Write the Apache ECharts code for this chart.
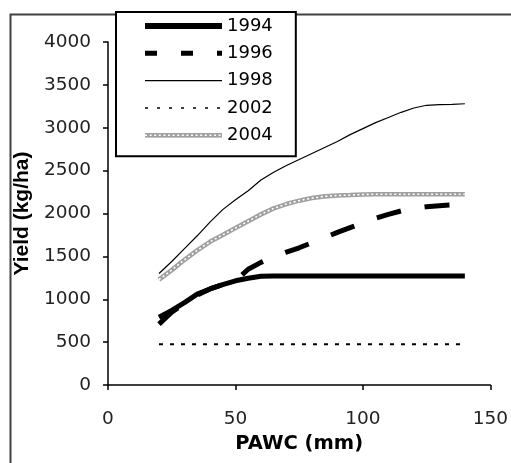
<!DOCTYPE html>
<html>
<head>
<meta charset="utf-8">
<script src="https://cdn.jsdelivr.net/npm/echarts@6/dist/echarts.min.js"></script>
<style>
html,body{margin:0;padding:0;background:#fff;}
#c{width:511px;height:463px;}
</style>
</head>
<body>
<div id="c"></div>
<script>
// ---- data ----
var pawc = [20,25,30,35,40,45,50,55,60,65,70,75,80,85,90,95,100,105,110,115,120,125,130,135,140];
var y1994 = [790,870,960,1060,1120,1170,1215,1245,1268,1270,1270,1270,1270,1270,1270,1270,1270,1270,1270,1270,1270,1270,1270,1270,1270];
var y1996 = [710,850,950,1050,1120,1170,1215,1350,1430,1495,1550,1600,1660,1720,1780,1835,1890,1945,1990,2030,2060,2080,2090,2100,2110];
var y1998 = [1300,1440,1590,1740,1900,2045,2160,2265,2390,2480,2560,2630,2700,2770,2840,2920,2990,3060,3120,3180,3230,3262,3270,3272,3280];
var y2002 = [475,475,475,475,475,475,475,475,475,475,475,475,475,475,475,475,475,475,475,475,475,475,475,475,475];
var y2004 = [1230,1340,1460,1570,1670,1750,1830,1910,1990,2060,2110,2150,2180,2200,2210,2215,2222,2225,2225,2225,2225,2225,2225,2225,2225];
var years = ['1994','1996','1998','2002','2004'];
var xTicks = [0,50,100,150];
var yTicks = [0,500,1000,1500,2000,2500,3000,3500,4000];

function pairs(ys){ return pawc.map(function(x,i){ return [x, ys[i]]; }); }

var chainSvg = "<svg xmlns='http://www.w3.org/2000/svg' width='77' height='20'>" +
  "<rect x='0' y='7.8' width='77' height='4.6' fill='#a0a0a0'/>" +
  "<line x1='0' y1='10.1' x2='77' y2='10.1' stroke='#ffffff' stroke-width='1.6' stroke-dasharray='2 2.6'/></svg>";
var chainIcon = 'image://data:image/svg+xml;charset=utf-8,' + encodeURIComponent(chainSvg);

var chart = echarts.init(document.getElementById('c'), null, {renderer:'canvas'});
var F = 'DejaVu Sans';
var noSym = {opacity: 0};
chart.setOption({
  animation: false,
  backgroundColor: '#fff',
  graphic: [{
    type: 'rect', left: 8, top: 12, z: -1,
    shape: {width: 600, height: 600},
    style: {fill: 'none', stroke: '#404040', lineWidth: 2}
  }],
  grid: {left: 108, right: 19, top: 42, bottom: 78},
  legend: {
    orient: 'vertical', left: 116, top: 12,
    padding: [4, 23, 11, 26],
    borderColor: '#000', borderWidth: 2, backgroundColor: '#fff',
    itemWidth: 77, itemHeight: 20, itemGap: 7.3,
    textStyle: {fontFamily: F, fontSize: 18, lineHeight: 20, color: '#000'},
    selectedMode: false,
    data: [
      {name: years[0], itemStyle: noSym, lineStyle: {width: 6, type: 'solid', color: '#000'}},
      {name: years[1], itemStyle: noSym, lineStyle: {width: 5, type: [12, 24], color: '#000'}},
      {name: years[2], itemStyle: noSym, lineStyle: {width: 1.3, type: 'solid', color: '#000'}},
      {name: years[3], itemStyle: noSym, lineStyle: {width: 1.5, type: [3, 9], color: '#000'}},
      {name: years[4], icon: chainIcon}
    ]
  },
  xAxis: {
    type: 'value', min: 0, max: 150, interval: 50,
    name: 'PAWC (mm)', nameLocation: 'middle', nameGap: 47,
    nameTextStyle: {fontFamily: F, fontWeight: 'bold', fontSize: 19.5, color: '#000'},
    axisLine: {lineStyle: {color: '#000', width: 1.5}},
    axisTick: {show: true, inside: false, length: 5, lineStyle: {color: '#000', width: 1.5}},
    axisLabel: {margin: 25, fontFamily: F, fontSize: 18.5, color: '#222',
      customValues: xTicks, formatter: function(v){ return String(v); }},
    splitLine: {show: false}
  },
  yAxis: {
    type: 'value', min: 0, max: 4000, interval: 500,
    name: 'Yield (kg/ha)', nameLocation: 'middle', nameRotate: 90, nameGap: 70,
    nameTextStyle: {fontFamily: 'Liberation Sans', fontWeight: 'bold', fontSize: 21, color: '#000'},
    axisLine: {show: true, lineStyle: {color: '#000', width: 1.5}},
    axisTick: {show: true, inside: false, length: 5, lineStyle: {color: '#000', width: 1.5}},
    axisLabel: {margin: 17, fontFamily: F, fontSize: 18.5, color: '#222',
      customValues: yTicks, formatter: function(v){ return String(v); }},
    splitLine: {show: false}
  },
  series: [
    {name: years[3], type: 'line', data: pairs(y2002), symbol: 'none', z: 2,
     itemStyle: {color: '#000'},
     lineStyle: {color: '#000', width: 2, type: [4, 7]}},
    {name: years[4], type: 'line', data: pairs(y2004), symbol: 'none', z: 2,
     itemStyle: {color: '#a0a0a0'},
     lineStyle: {color: '#a0a0a0', width: 4.6}},
    {name: '2004-chain', type: 'line', data: pairs(y2004), symbol: 'none', z: 3, silent: true,
     itemStyle: {color: '#fff'},
     lineStyle: {color: '#fff', width: 1.6, type: [2, 2.6]}},
    {name: years[2], type: 'line', data: pairs(y1998), symbol: 'none', z: 4,
     itemStyle: {color: '#000'},
     lineStyle: {color: '#000', width: 1.2}},
    {name: years[1], type: 'line', data: pairs(y1996), symbol: 'none', z: 5,
     itemStyle: {color: '#000'},
     lineStyle: {color: '#000', width: 5, type: [25, 24]}},
    {name: years[0], type: 'line', data: pairs(y1994), symbol: 'none', z: 6,
     itemStyle: {color: '#000'},
     lineStyle: {color: '#000', width: 5}}
  ]
});
</script>
</body>
</html>
